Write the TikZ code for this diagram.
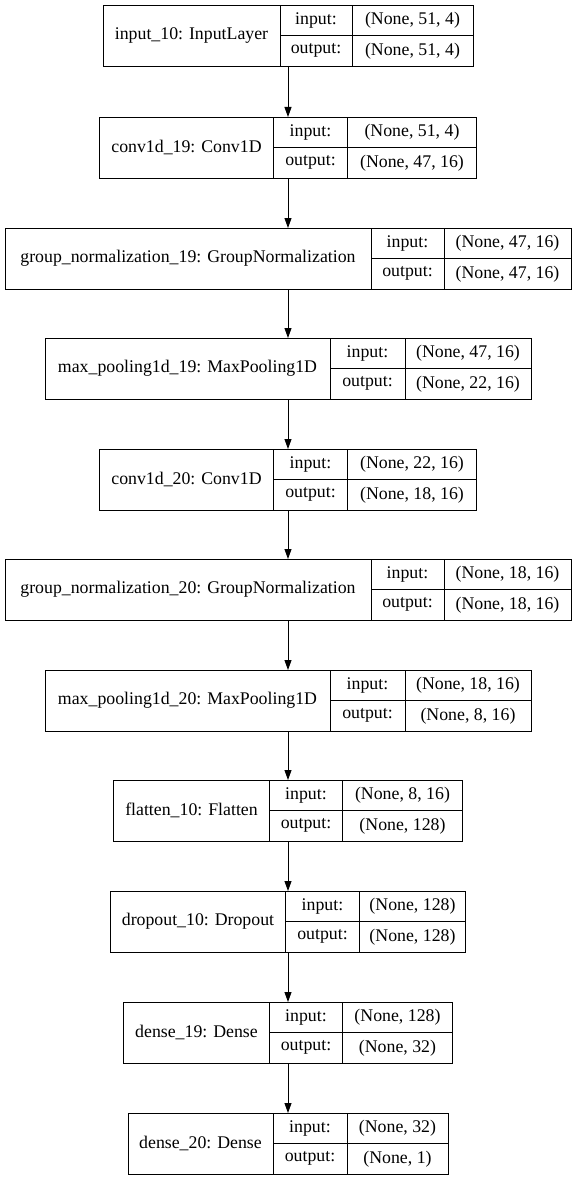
\documentclass[tikz,border=0pt]{standalone}
\usepackage{fontspec}
\setmainfont{Liberation Serif}
\usetikzlibrary{arrows.meta}
\tikzset{
  cell/.style={draw=black, line width=0.9pt, inner sep=0pt, outer sep=0pt,
    anchor=north west, font=\fontsize{17.8}{20}\selectfont},
  outline/.style={draw=black, line width=0.9pt, inner sep=0pt, outer sep=0pt,
    anchor=north west},
  flow/.style={draw=black, line width=0.9pt,
    -{Triangle[length=10pt,width=7pt]}},
}
% One Keras layer: id, top, name width, key width, value width, name, input, output
\newcommand{\kerasLayer}[8]{%
  \pgfmathsetmacro\lx{288-(#3+#4+#5)/2}%
  \pgfmathsetmacro\tw{#3+#4+#5}%
  \node[outline, minimum width=\tw, minimum height=61] (#1) at (\lx,#2) {};
  \node[cell, minimum width=#3, minimum height=61] (#1-name) at (\lx,#2) {#6};
  \node[cell, minimum width=#4, minimum height=30.5] (#1-ki) at ({\lx+#3},#2) {input:};
  \node[cell, minimum width=#4, minimum height=30.5] (#1-ko) at ({\lx+#3},{#2+30.5}) {output:};
  \node[cell, minimum width=#5, minimum height=30.5] (#1-vi) at ({\lx+#3+#4},#2) {#7};
  \node[cell, minimum width=#5, minimum height=30.5] (#1-vo) at ({\lx+#3+#4},{#2+30.5}) {#8};
}
\begin{document}
\begin{tikzpicture}[x=1pt, y=-1pt]
\useasboundingbox[fill=white] (0,0) rectangle (576,1180);
\kerasLayer{l1}{5}{177}{72}{121}{input\_10: InputLayer}{(None, 51, 4)}{(None, 51, 4)}
\kerasLayer{l2}{117}{174}{74}{129}{conv1d\_19: Conv1D}{(None, 51, 4)}{(None, 47, 16)}
\kerasLayer{l3}{228}{366}{73}{127}{group\_normalization\_19: GroupNormalization}{(None, 47, 16)}{(None, 47, 16)}
\kerasLayer{l4}{338}{285}{75}{126}{max\_pooling1d\_19: MaxPooling1D}{(None, 47, 16)}{(None, 22, 16)}
\kerasLayer{l5}{449}{174}{74}{129}{conv1d\_20: Conv1D}{(None, 22, 16)}{(None, 18, 16)}
\kerasLayer{l6}{559}{366}{73}{127}{group\_normalization\_20: GroupNormalization}{(None, 18, 16)}{(None, 18, 16)}
\kerasLayer{l7}{670}{285}{75}{126}{max\_pooling1d\_20: MaxPooling1D}{(None, 18, 16)}{(None, 8, 16)}
\kerasLayer{l8}{780}{156}{73}{120}{flatten\_10: Flatten}{(None, 8, 16)}{(None, 128)}
\kerasLayer{l9}{891}{175}{74}{106}{dropout\_10: Dropout}{(None, 128)}{(None, 128)}
\kerasLayer{l10}{1002}{146}{73}{110}{dense\_19: Dense}{(None, 128)}{(None, 32)}
\kerasLayer{l11}{1113}{145}{74}{101}{dense\_20: Dense}{(None, 32)}{(None, 1)}
\foreach \a/\b in {l1/l2,l2/l3,l3/l4,l4/l5,l5/l6,l6/l7,l7/l8,l8/l9,l9/l10,l10/l11}
  \draw[flow] (\a.south) -- (\b.north);
\end{tikzpicture}
\end{document}
